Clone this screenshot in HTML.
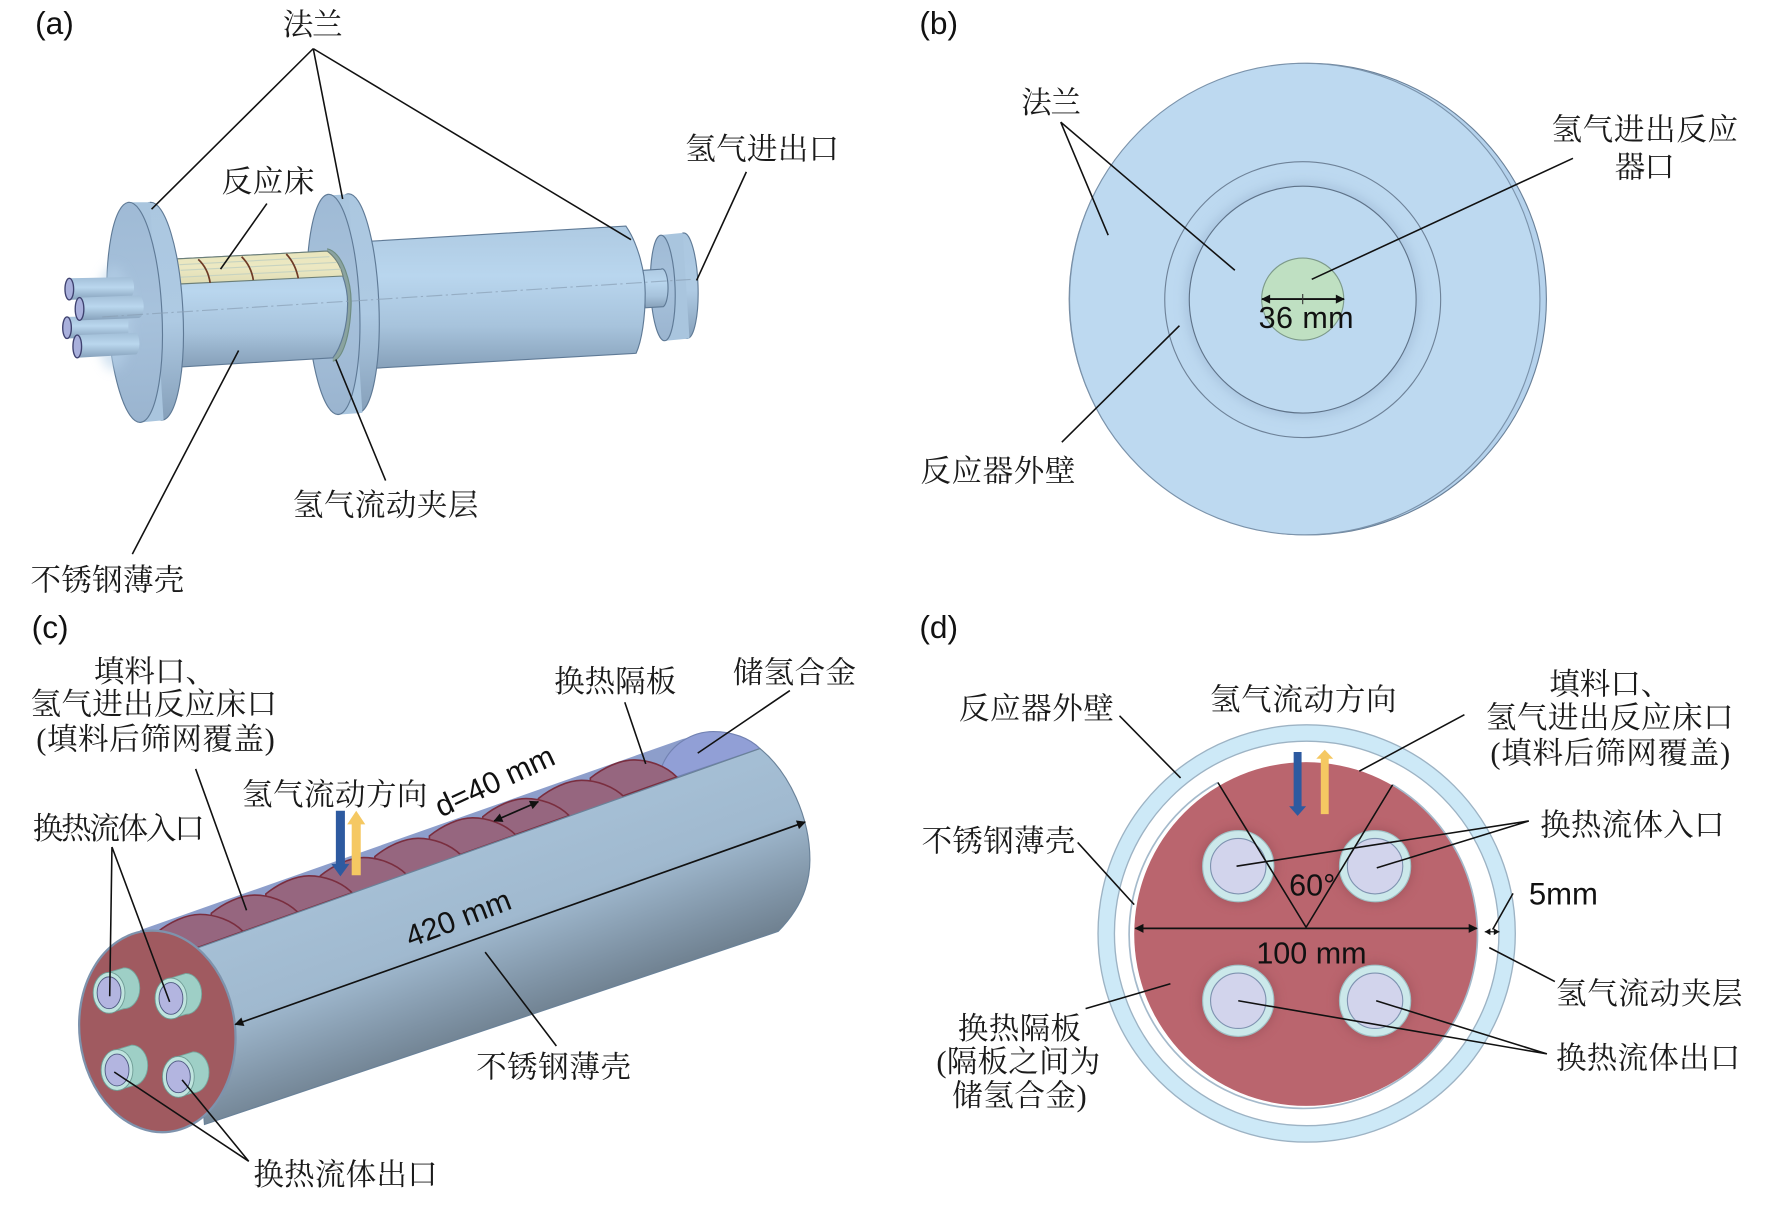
<!DOCTYPE html>
<html lang="zh"><head><meta charset="utf-8"><title>Reactor diagram</title>
<style>
html,body{margin:0;padding:0;background:#fff;width:1772px;height:1206px;overflow:hidden}
svg{display:block}
.t{font-family:"Liberation Serif","Noto Serif CJK SC",serif;font-size:27px;fill:#1a1a1a}
.l{font-family:"Liberation Sans",sans-serif;font-size:27px;fill:#111}
.ln{stroke:#111;stroke-width:1.4;fill:none}
.edge{stroke:#5f7a96;stroke-width:1}
</style></head><body>
<svg xmlns="http://www.w3.org/2000/svg" width="1772" height="1206" viewBox="0 0 1567 1066.500">
<defs>
<linearGradient id="tube" x1="0" y1="0" x2="0" y2="1"><stop offset="0" stop-color="#aecae2"/><stop offset=".35" stop-color="#b9d6ee"/><stop offset=".7" stop-color="#a7c3dc"/><stop offset="1" stop-color="#86a0b9"/></linearGradient>
<linearGradient id="pipe" x1="0" y1="0" x2="0" y2="1"><stop offset="0" stop-color="#a3bfd8"/><stop offset=".45" stop-color="#bad7ee"/><stop offset="1" stop-color="#86a1bb"/></linearGradient>
<linearGradient id="rim" gradientUnits="objectBoundingBox" x1="0" y1="0" x2="0" y2="1"><stop offset="0" stop-color="#abc7e0"/><stop offset=".55" stop-color="#aecae3"/><stop offset="1" stop-color="#86a0ba"/></linearGradient>
<linearGradient id="face" x1="0" y1="0" x2="0" y2="1"><stop offset="0" stop-color="#9fbad5"/><stop offset=".5" stop-color="#a7c2dc"/><stop offset="1" stop-color="#9ab4cf"/></linearGradient>
<linearGradient id="shell" gradientUnits="userSpaceOnUse" x1="390" y1="745" x2="450" y2="910"><stop offset="0" stop-color="#a6c0d6"/><stop offset=".45" stop-color="#a0b9cf"/><stop offset=".8" stop-color="#7f93a5"/><stop offset="1" stop-color="#6d7e8d"/></linearGradient>
<linearGradient id="bed" x1="0" y1="0" x2="0" y2="1"><stop offset="0" stop-color="#e9e6bd"/><stop offset=".5" stop-color="#ece8c2"/><stop offset="1" stop-color="#dfdcb4"/></linearGradient>
<filter id="sh" x="-30%" y="-30%" width="160%" height="160%"><feGaussianBlur stdDeviation="5"/></filter>
<marker id="ah" viewBox="0 0 10 10" refX="9" refY="5" markerWidth="9" markerHeight="8" markerUnits="userSpaceOnUse" orient="auto-start-reverse"><path d="M0 0L10 5L0 10z" fill="#111"/></marker>
</defs>

<!-- ===== (a) shapes ===== -->
<g transform="scale(1.0045)">
<!-- small flange -->
<ellipse cx="603.500" cy="251.500" rx="11" ry="46.500" fill="url(#rim)" class="edge" transform="rotate(-2 603.500 251.500)"/>
<path d="M581 207L601 205L607 298L586 300z" fill="#a9c5de"/>
<ellipse cx="583.500" cy="253.500" rx="10.800" ry="46.500" fill="url(#face)" class="edge" transform="rotate(-2 583.500 253.500)"/>
<path d="M566 238L582 237A5 16.500 0 0 1 584 270L568 271z" fill="url(#tube)" stroke="#5f7a96" stroke-width="1"/>
<!-- tube 2 -->
<path d="M315 213L551 199C562 215 568 240 568 258C568 280 565 300 560 311L315 325z" fill="url(#tube)" class="edge"/>
<!-- flange 2 -->
<ellipse cx="311" cy="267" rx="22.500" ry="96.500" fill="url(#rim)" class="edge" transform="rotate(-2.500 311 267)"/>
<path d="M290 172L307 171L319 363.500L298 365z" fill="#a9c5de"/>
<ellipse cx="293.500" cy="268" rx="23" ry="97" fill="url(#face)" class="edge" transform="rotate(-2.500 293.500 268)"/>
<path d="M288 219C302 222 310 250 309 270C308 295 302 316 293 318" fill="#8aa3a0" stroke="#6e8c80" stroke-width="1"/>
<!-- tube 1 -->
<path d="M155 228L288 221C300 232 306 252 306 267C306 288 300 306 293 315L160 323z" fill="url(#tube)" class="edge"/>
<path d="M155 228L288 221C296 227 300 235 302 243L158 250z" fill="url(#bed)" stroke="#6c7f78" stroke-width="1"/>
<path d="M158 233L290 226M159 238L296 231M159 244L300 237" stroke="#c7d3c0" stroke-width="1" fill="none"/>
<path d="M174.500 228.300Q183 236 185 249M212.700 226Q221 234 223 246.500M252 223.600Q260 232 262.600 245" stroke="#6e3a26" stroke-width="1.500" fill="none"/>
<!-- flange 1 -->
<ellipse cx="137.500" cy="274" rx="23.500" ry="96" fill="url(#rim)" class="edge" transform="rotate(-3 137.500 274)"/>
<path d="M113 178L132 178L144 370L123 372z" fill="#a9c5de"/>
<ellipse cx="118.500" cy="275" rx="24" ry="97" fill="url(#face)" class="edge" transform="rotate(-3 118.500 275)"/>
<!-- pipes -->
<ellipse cx="100" cy="280" rx="16" ry="46" fill="#b5d0e8" filter="url(#sh)" opacity=".6"/>
<path d="M61 245L114 244A4 9 0 0 1 114 262L61 264z" fill="url(#pipe)"/>
<ellipse cx="61" cy="254.500" rx="3.800" ry="9.500" fill="#a9b0dc" stroke="#3f4270" stroke-width="1.200"/>
<path d="M59 279L113 278L113 296L59 298z" fill="url(#pipe)"/>
<ellipse cx="59" cy="288.500" rx="3.800" ry="9.500" fill="#a9b0dc" stroke="#3f4270" stroke-width="1.200"/>
<path d="M70 262L122 260A4.500 10 0 0 1 122 280L70 282z" fill="url(#pipe)"/>
<ellipse cx="70" cy="272" rx="3.800" ry="10" fill="#a9b0dc" stroke="#3f4270" stroke-width="1.200"/>
<path d="M68 295L120 293A4 10 0 0 1 120 312L68 315z" fill="url(#pipe)"/>
<ellipse cx="68" cy="305" rx="3.800" ry="10" fill="#a9b0dc" stroke="#3f4270" stroke-width="1.200"/>
<line x1="90" y1="279" x2="608" y2="246" stroke="#8aa0b6" stroke-width="1" stroke-dasharray="14 3 2 3" opacity=".7"/>
</g>
<!-- a lines -->
<g class="ln">
<path d="M277 43L134 185M277 43L303 176M277 43L558 212"/>
<path d="M236 180L195 238M660 152L616 248M341 425L297 318M117 490L211 310"/>
</g>
<text class="l" x="31" y="30" style="font-size:28px">(a)</text>
<text class="t" x="250" y="31" textLength="53">法兰</text>
<text class="t" x="606" y="141" textLength="136">氢气进出口</text>
<text class="t" x="196" y="170" textLength="82">反应床</text>
<text class="t" x="259" y="456" textLength="164">氢气流动夹层</text>
<text class="t" x="27" y="522" textLength="136">不锈钢薄壳</text>

<!-- ===== (b) ===== -->
<ellipse cx="1156.500" cy="264.500" rx="211" ry="208.500" fill="#b5d2ec" stroke="#6a8199" stroke-width="1"/>
<ellipse cx="1153.800" cy="264.500" rx="208" ry="208.500" fill="#bdd9f0" stroke="#7b93ab" stroke-width="1"/>
<circle cx="1152" cy="265" r="122" fill="#bdd9f0" stroke="#6e8298" stroke-width="1"/>
<circle cx="1152" cy="265" r="104" fill="#96b1cf" filter="url(#sh)" opacity=".5"/>
<circle cx="1152" cy="265" r="100.300" fill="#bdd9f0" stroke="#5e7288" stroke-width="1"/>
<circle cx="1152" cy="264.500" r="36.300" fill="#bfe0c2" stroke="#7d9a8a" stroke-width="1"/>
<line x1="1116" y1="264.500" x2="1188.500" y2="264.500" stroke="#111" stroke-width="1.700" marker-start="url(#ah)" marker-end="url(#ah)"/>
<line x1="1152" y1="260" x2="1152" y2="269" stroke="#333" stroke-width="1"/>
<g class="ln">
<path d="M938 108L980 208M938 108L1092 239M1391 140L1160 247M939 391L1043 288"/>
</g>
<text class="l" x="813" y="30" style="font-size:28px">(b)</text>
<text class="t" x="903" y="100" textLength="53">法兰</text>
<text class="t" x="1372" y="124" textLength="165">氢气进出反应</text>
<text class="t" x="1428" y="157" textLength="53">器口</text>
<text class="t" x="814" y="426" textLength="137">反应器外壁</text>
<text class="l" x="1113" y="290" textLength="84">36 mm</text>

<!-- ===== (c) shapes ===== -->
<g transform="scale(1.0045)">
<path d="M123 819L601 650.600L628 644L669 659L167 837z" fill="#8d9ecb"/>
<path d="M595.700 684L582.600 675C590 655 610 644 628 644C645 644 660 650 669 659z" fill="#919fd6" stroke="#7282b2" stroke-width="1"/>
<g fill="#96667f" stroke="#7a2e3f" stroke-width="1.400">
<path d="M595.700 684C586 674 571 669 557.700 669C546 669 531 676 519.700 685L519.700 711z"/>
<path d="M550 702C540 692 525 687 512 687C500 687 485 694 474 703L474 729z"/>
<path d="M501 718C491 708 476 703 463 703C451 703 436 710 425 719L425 745z"/>
<path d="M454 735C444 725 429 720 416 720C404 720 389 727 378 736L378 762z"/>
<path d="M406 753C396 743 381 738 368 738C356 738 341 745 330 754L330 780z"/>
<path d="M358 770C348 760 333 755 320 755C308 755 293 762 282 771L282 797z"/>
<path d="M310 786C300 776 285 771 272 771C260 771 245 778 234 787L234 813z"/>
<path d="M262 803C252 793 237 788 224 788C212 788 197 795 186 804L186 830z"/>
<path d="M214 820C204 810 189 805 176 805C164 805 149 812 138 821L138 847z"/>
</g>
<path d="M167 837L669 659C695 680 713 720 713 757C713 785 700 805 685 820L180 990z" fill="url(#shell)" stroke="#6a8299" stroke-width="1"/>
<ellipse cx="138.500" cy="908" rx="68.500" ry="89" fill="#a05a60" stroke="#7e93ad" stroke-width="2" transform="rotate(-7 138.500 908)"/>
<g>
<path d="M96 856L109 852A14 18 0 0 1 109 888L96 892z" fill="#9ecfc6" stroke="#76a69d" stroke-width=".8"/>
<ellipse cx="96" cy="874" rx="14" ry="18" fill="#bfe4de" stroke="#6f9c95" stroke-width=".8"/>
<ellipse cx="96" cy="874" rx="10.500" ry="14" fill="#b3b5e0" stroke="#4e5880" stroke-width=".8"/>
</g>
<g transform="translate(54.500 5)">
<path d="M96 856L109 852A14 18 0 0 1 109 888L96 892z" fill="#9ecfc6" stroke="#76a69d" stroke-width=".8"/>
<ellipse cx="96" cy="874" rx="14" ry="18" fill="#bfe4de" stroke="#6f9c95" stroke-width=".8"/>
<ellipse cx="96" cy="874" rx="10.500" ry="14" fill="#b3b5e0" stroke="#4e5880" stroke-width=".8"/>
</g>
<g transform="translate(7 68)">
<path d="M96 856L109 852A14 18 0 0 1 109 888L96 892z" fill="#9ecfc6" stroke="#76a69d" stroke-width=".8"/>
<ellipse cx="96" cy="874" rx="14" ry="18" fill="#bfe4de" stroke="#6f9c95" stroke-width=".8"/>
<ellipse cx="96" cy="874" rx="10.500" ry="14" fill="#b3b5e0" stroke="#4e5880" stroke-width=".8"/>
</g>
<g transform="translate(61 74)">
<path d="M96 856L109 852A14 18 0 0 1 109 888L96 892z" fill="#9ecfc6" stroke="#76a69d" stroke-width=".8"/>
<ellipse cx="96" cy="874" rx="14" ry="18" fill="#bfe4de" stroke="#6f9c95" stroke-width=".8"/>
<ellipse cx="96" cy="874" rx="10.500" ry="14" fill="#b3b5e0" stroke="#4e5880" stroke-width=".8"/>
</g>
</g>
<line x1="208" y1="906" x2="712" y2="727" stroke="#111" stroke-width="1.500" marker-start="url(#ah)" marker-end="url(#ah)"/>
<line x1="437" y1="726" x2="476" y2="709" stroke="#111" stroke-width="1.500" marker-start="url(#ah)" marker-end="url(#ah)"/>
<g class="ln">
<path d="M173 680L218 805M99 749L97 881M99 749L150 886M552.500 621L571 675.500M698.500 610.700L617 666M429 842L492 925M220 1027L101 948M220 1027L161 955"/>
</g>
<path d="M297 717H305V764H309L301 775L293 764H297z" fill="#2d5aa0"/>
<path d="M311 774V729H307L315 717L323 729H319V774z" fill="#f5c862"/>
<text class="l" x="28" y="564" style="font-size:28px">(c)</text>
<text class="t" x="83" y="603" textLength="108">填料口、</text>
<text class="t" x="27" y="632" textLength="218">氢气进出反应床口</text>
<text class="t" x="32" y="663" textLength="211">(填料后筛网覆盖)</text>
<text class="t" x="490" y="612" textLength="108">换热隔板</text>
<text class="t" x="648" y="604" textLength="109">储氢合金</text>
<text class="t" x="214" y="712" textLength="164">氢气流动方向</text>
<text class="t" x="29" y="742" textLength="152">换热流体入口</text>
<text class="t" x="421" y="953" textLength="137">不锈钢薄壳</text>
<text class="t" x="224" y="1048" textLength="163">换热流体出口</text>
<text class="l" transform="translate(363 838) rotate(-21)">420 mm</text>
<text class="l" transform="translate(390 723) rotate(-25)">d=40 mm</text>

<!-- ===== (d) ===== -->
<circle cx="1155.500" cy="825.500" r="184.500" fill="#cde9f7" stroke="#9db3c4" stroke-width="1.200"/>
<circle cx="1155.500" cy="825.500" r="170" fill="#fff" stroke="#9db3c4" stroke-width="1.200"/>
<circle cx="1155" cy="826" r="152" fill="#ba656e"/>
<path d="M1077 692A154 154 0 1 0 1231.500 694" fill="none" stroke="#a5bacb" stroke-width="1.500"/>
<g filter="url(#sh)" fill="#8f4650" opacity=".55">
<circle cx="1095" cy="766" r="33"/><circle cx="1216" cy="766" r="33"/><circle cx="1095" cy="885" r="33"/><circle cx="1216" cy="885" r="33"/>
</g>
<g fill="#cbe8ea" stroke="#9fc0c4" stroke-width="1">
<circle cx="1095" cy="766" r="31.500"/><circle cx="1216" cy="766" r="31.500"/><circle cx="1095" cy="885" r="31.500"/><circle cx="1216" cy="885" r="31.500"/>
</g>
<g fill="#d2d4ec" stroke="#7f93b0" stroke-width="1">
<circle cx="1095" cy="766" r="24.500"/><circle cx="1216" cy="766" r="24.500"/><circle cx="1095" cy="885" r="24.500"/><circle cx="1216" cy="885" r="24.500"/>
</g>
<line x1="1004" y1="821" x2="1306" y2="821" stroke="#111" stroke-width="1.500" marker-start="url(#ah)" marker-end="url(#ah)"/>
<line x1="1313" y1="824" x2="1326" y2="824" stroke="#111" stroke-width="1"/>
<path d="M1313 824l5-3v6zM1326 824l-5-3v6z" fill="#111"/>
<g class="ln">
<path d="M1155 820L1077 692M1155 820L1231.500 694"/>
<path d="M990 633L1044 688M953 745L1003 800M1295 632L1202 682"/>
<path d="M1352 726L1093.500 766M1352 726L1217.500 767.500"/>
<path d="M1338 790L1320 822M1317 838L1375 868"/>
<path d="M1368 932L1095 885M1368 932L1217 885M960 892L1035 870"/>
</g>
<path d="M1144 665H1151V713H1155L1147.500 721.500L1140 713H1144z" fill="#2d5aa0"/>
<path d="M1168 720V671H1164L1171.500 663L1179 671H1175V720z" fill="#f5c862"/>
<text class="l" x="813" y="564" style="font-size:28px">(d)</text>
<text class="t" x="1070" y="628" textLength="165">氢气流动方向</text>
<text class="t" x="848" y="636" textLength="137">反应器外壁</text>
<text class="t" x="815" y="753" textLength="136">不锈钢薄壳</text>
<text class="t" x="1370" y="614" textLength="108">填料口、</text>
<text class="t" x="1314" y="644" textLength="219">氢气进出反应床口</text>
<text class="t" x="1318" y="675" textLength="212">(填料后筛网覆盖)</text>
<text class="t" x="1362" y="739" textLength="163">换热流体入口</text>
<text class="t" x="1376" y="888" textLength="165">氢气流动夹层</text>
<text class="t" x="1376" y="945" textLength="163">换热流体出口</text>
<text class="t" x="847" y="919" textLength="109">换热隔板</text>
<text class="t" x="828" y="948" textLength="145">(隔板之间为</text>
<text class="t" x="842" y="978" textLength="119">储氢合金)</text>
<text class="l" x="1352" y="800" style="font-size:27.500px">5mm</text>
<text class="l" x="1140" y="792" style="font-size:27px">60°</text>
<text class="l" x="1111" y="852" style="font-size:27px">100 mm</text>
</svg>
</body></html>
